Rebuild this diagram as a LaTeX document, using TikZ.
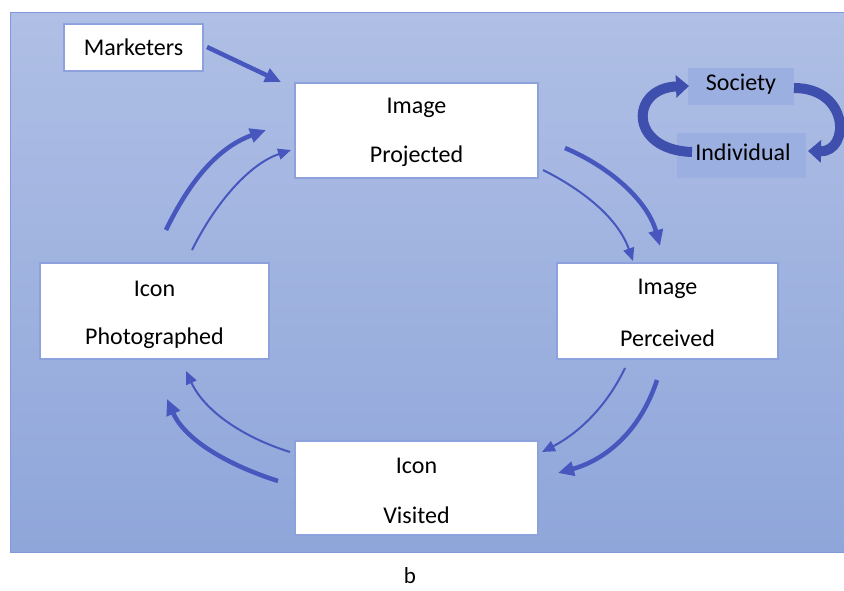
\documentclass[tikz,border=0pt]{standalone}
\usepackage{fontspec}
\setmainfont{Carlito}
\usetikzlibrary{arrows.meta}
\definecolor{bgtop}{HTML}{AFBFE5}
\definecolor{bgbot}{HTML}{8FA6DA}
\definecolor{bgedge}{HTML}{8198DA}
\definecolor{boxedge}{HTML}{8DA2DD}
\definecolor{arr}{HTML}{4757BE}
\definecolor{ribbon}{HTML}{3F4FAE}
\definecolor{shbox}{HTML}{9CAFE1}
\tikzset{
  wbox/.style={draw=boxedge, line width=1.5pt, fill=white, minimum width=#1, inner sep=0pt},
  lbl/.style={font=\fontsize{24}{28}\selectfont, inner sep=0pt},
  thickarr/.style={draw=arr, line width=4.5pt, -{Triangle[length=16pt,width=14pt]}},
  thinarr/.style={draw=arr, line width=2pt, -{Triangle[length=13pt,width=11pt]}},
  ribarr/.style={draw=ribbon, line width=10pt, -{Triangle[length=13pt,width=22pt]}},
  shaded box/.style={fill=shbox, inner sep=0pt},
}
\begin{document}
\begin{tikzpicture}[x=1pt,y=-1pt]
\useasboundingbox (0,0) rectangle (844,590);
\shade[top color=bgtop, bottom color=bgbot] (10,12) rectangle (844,552);
\draw[bgedge, line width=1pt] (10,12) rectangle (844,552);

% boxes
\node[wbox=139pt, minimum height=47pt, lbl] (mk) at (133.5,47.5) {Marketers};
\node[wbox=243pt, minimum height=95pt] (proj) at (416.5,130.5) {};
\node[lbl] (projA) at (416.5,108) {Image};
\node[lbl] (projB) at (416.5,156) {Projected};
\node[wbox=221pt, minimum height=96pt] (perc) at (667.5,311) {};
\node[lbl] (percA) at (667.5,289) {Image};
\node[lbl] (percB) at (667.5,338) {Perceived};
\node[wbox=243pt, minimum height=94pt] (vis) at (416.5,488) {};
\node[lbl] (visA) at (416.5,466) {Icon};
\node[lbl] (visB) at (416.5,515) {Visited};
\node[wbox=229pt, minimum height=96pt] (pho) at (154.5,311) {};
\node[lbl] (phoA) at (154.5,289) {Icon};
\node[lbl] (phoB) at (154.5,338) {Photographed};

% society / individual
\node[shaded box, minimum width=106pt, minimum height=37pt] (soc) at (741,86.5) {};
\node[lbl] (socT) at (741,84) {Society};
\node[shaded box, minimum width=129pt, minimum height=45pt] (ind) at (741.5,155.5) {};
\node[lbl] (indT) at (743,152) {Individual};

% arrow end points
\coordinate (m1) at (207,47);  \coordinate (m2) at (281,82);
\coordinate (a1) at (166,230); \coordinate (a2) at (266,130);
\coordinate (b1) at (192,250); \coordinate (b2) at (291,150);
\coordinate (c1) at (565,148); \coordinate (c2) at (660,246);
\coordinate (d1) at (543,170); \coordinate (d2) at (633,261);
\coordinate (e1) at (625,368); \coordinate (e2) at (542,452);
\coordinate (f1) at (657,380); \coordinate (f2) at (558,473);
\coordinate (g1) at (290,452); \coordinate (g2) at (186,371);
\coordinate (h1) at (278,481); \coordinate (h2) at (167,399);
\coordinate (s1) at (692,152); \coordinate (s2) at (689,86);
\coordinate (t1) at (794,88);  \coordinate (t2) at (808,151);

\draw[thickarr] (m1) -- (m2);
\draw[thickarr] (a1) .. controls (195,170) and (225,145) .. (a2);
\draw[thinarr]  (b1) .. controls (218,198) and (252,163) .. (b2);
\draw[thickarr] (c1) .. controls (612,168) and (648,202) .. (c2);
\draw[thinarr]  (d1) .. controls (583,190) and (618,218) .. (d2);
\draw[thinarr]  (e1) .. controls (605,410) and (575,435) .. (e2);
\draw[thickarr] (f1) .. controls (640,432) and (605,460) .. (f2);
\draw[thinarr]  (g1) .. controls (245,438) and (205,412) .. (g2);
\draw[thickarr] (h1) .. controls (228,465) and (185,440) .. (h2);

\draw[ribarr] (s1) .. controls (628,150) and (630,88) .. (s2);
\draw[ribarr] (t1) .. controls (850,88) and (850,152) .. (t2);

\node[font=\fontsize{23}{26}\selectfont, inner sep=0pt] (cap) at (410,576) {b};
\end{tikzpicture}
\end{document}
